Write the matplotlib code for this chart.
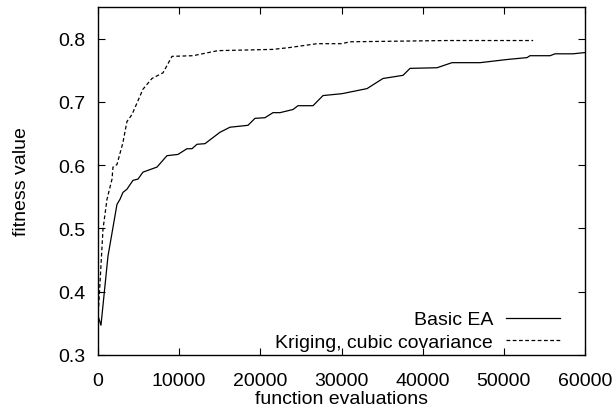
import matplotlib
matplotlib.use("Agg")
import matplotlib.pyplot as plt

plt.rcParams['font.family'] = ['Liberation Sans', 'DejaVu Sans']

# Basic EA (solid)
ea_x = [0, 370, 1230, 2340, 2710, 3080, 3570, 4310, 4930, 5540, 7270, 8500, 9860,
        10960, 11580, 12200, 13180, 15030, 16260, 18480, 19340, 20570, 21560, 22420,
        24030, 24640, 26490, 27720, 30060, 33140, 35110, 37580, 38440, 41770, 43610,
        47060, 50390, 52850, 53220, 55690, 56300, 58520, 60000]
ea_y = [0.362, 0.347, 0.456, 0.538, 0.546, 0.557, 0.562, 0.576, 0.578, 0.589, 0.597,
        0.615, 0.617, 0.626, 0.626, 0.633, 0.634, 0.652, 0.660, 0.663, 0.674, 0.675,
        0.683, 0.683, 0.688, 0.694, 0.694, 0.710, 0.713, 0.721, 0.737, 0.742, 0.753,
        0.754, 0.762, 0.762, 0.767, 0.770, 0.773, 0.773, 0.776, 0.776, 0.778]

# Kriging, cubic covariance (dashed)
kr_x = [0, 620, 1110, 1730, 1850, 2340, 3080, 3570, 4190, 5540, 6650, 8010, 9120,
        11700, 14780, 21560, 23660, 26980, 30000, 31050, 43000, 53600]
kr_y = [0.357, 0.499, 0.546, 0.578, 0.597, 0.601, 0.636, 0.669, 0.680, 0.720, 0.737,
        0.746, 0.772, 0.773, 0.781, 0.783, 0.786, 0.792, 0.792, 0.795, 0.797, 0.797]

fs = 14

fig = plt.figure(figsize=(6.15, 4.14), dpi=100)
ax = fig.add_axes([0.1593, 0.1401, 0.792, 0.8406])

ax.plot(ea_x, ea_y, color='black', lw=0.9, label='Basic EA')
ax.plot(kr_x, kr_y, color='black', lw=0.9, linestyle=(0, (3, 2)),
        label='Kriging, cubic covariance')

ax.set_xlim(0, 60000)
ax.set_ylim(0.3, 0.85)
ax.set_xticks([0, 10000, 20000, 30000, 40000, 50000, 60000])
ax.set_yticks([0.3, 0.4, 0.5, 0.6, 0.7, 0.8])
ax.tick_params(direction='in', top=True, right=True, labelsize=fs, length=5)
ax.tick_params(axis='x', pad=12)
ax.tick_params(axis='y', pad=9)
for s in ax.spines.values():
    s.set_linewidth(1.0)

ax.set_xlabel('function evaluations', fontsize=fs, labelpad=1)
ax.set_ylabel('fitness value', fontsize=fs, labelpad=20)

ax.legend(loc='lower right', bbox_to_anchor=(1 - 25 / 487, 0.012), frameon=False,
          markerfirst=False, fontsize=fs, handlelength=2.8, handletextpad=0.65,
          labelspacing=0.25, borderpad=0, borderaxespad=0)

fig.savefig('out.png', dpi=100)
